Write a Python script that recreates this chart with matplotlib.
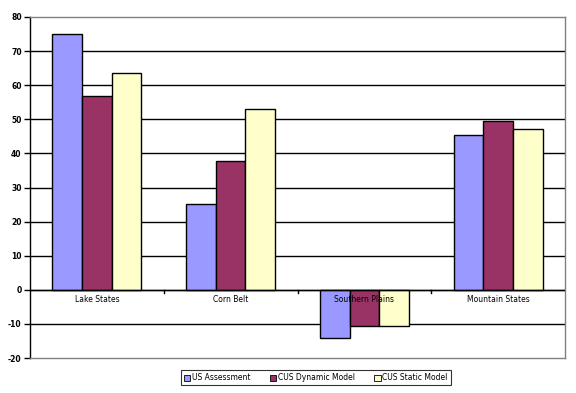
import matplotlib
matplotlib.use("Agg")
import matplotlib.pyplot as plt
import numpy as np

categories = ["Lake States", "Corn Belt", "Southern Plains", "Mountain States"]
series_names = ["US Assessment", "CUS Dynamic Model", "CUS Static Model"]
us_assessment = [75.0, 25.1, -14.1, 45.4]
cus_dynamic = [56.8, 37.7, -10.6, 49.5]
cus_static = [63.5, 53.0, -10.6, 47.1]
y_ticks = [-20, -10, 0, 10, 20, 30, 40, 50, 60, 70, 80]

colors = ["#9999FF", "#993366", "#FFFFCC"]

fig = plt.figure(figsize=(5.76, 3.93), dpi=100)
ax = fig.add_axes([30/576, 35/393, 535/576, 341/393])

n = len(categories)
x = np.arange(n)
w = 2/9
for i, (vals, c, name) in enumerate(zip([us_assessment, cus_dynamic, cus_static], colors, series_names)):
    ax.bar(x + (i - 1) * w, vals, width=w, color=c, edgecolor="black", linewidth=1.0, label=name, zorder=3)

ax.set_xlim(-0.5, n - 0.5)
ax.set_ylim(-20, 80)
ax.set_yticks(y_ticks)
ax.set_yticklabels([str(t) for t in y_ticks], fontsize=5.5, fontweight="bold")
for t in y_ticks:
    if t not in (-20, 80):
        ax.axhline(t, color="black", linewidth=1.0, zorder=1)
ax.axhline(0, color="black", linewidth=1.0, zorder=4)
ax.tick_params(axis="y", length=4, width=1, pad=2)
ax.set_xticks([])
ax.spines["left"].set_color("black")
ax.spines["top"].set_color("#808080")
ax.spines["right"].set_color("#808080")
ax.spines["bottom"].set_color("#808080")
for s in ax.spines.values():
    s.set_linewidth(1.0)

# category tick marks on zero line
for b in np.arange(0.5, n - 0.5, 1.0):
    ax.plot([b, b], [0, -1.0], color="black", linewidth=1.0, zorder=4, clip_on=False)

for xi, cat in zip(x, categories):
    ax.text(xi, -1.6, cat, ha="center", va="top", fontsize=5.5, zorder=5)

leg = ax.legend(loc="upper center", bbox_to_anchor=(0.534, -0.025), ncol=3, fontsize=5.5,
                frameon=True, fancybox=False, edgecolor="black", handlelength=0.8,
                handleheight=0.8, handletextpad=0.2, columnspacing=2.6, borderpad=0.4)
leg.get_frame().set_linewidth(0.8)
for h in leg.legend_handles:
    h.set_linewidth(0.6)

fig.savefig("out.png", dpi=100)
